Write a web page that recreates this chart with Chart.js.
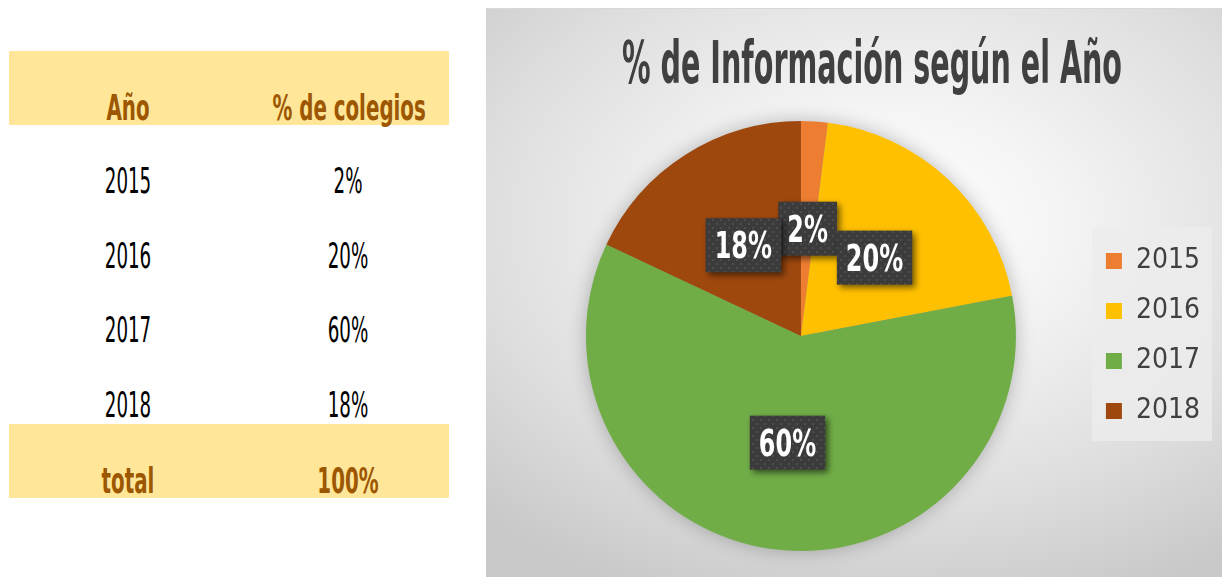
<!DOCTYPE html>
<html>
<head>
<meta charset="utf-8">
<script src="https://cdn.jsdelivr.net/npm/chart.js@4/dist/chart.umd.min.js"></script>
<style>
  html, body { margin: 0; padding: 0; background: #fff; width: 1222px; height: 577px; overflow: hidden; position: relative; }
  body { font-family: "Liberation Sans Narrow", "DejaVu Sans Condensed", "Liberation Sans", sans-serif; }
  .band { position: absolute; left: 9px; width: 440px; height: 74px; background: #FFE699; }
  .cell { position: absolute; width: 240px; margin-left: -120px; text-align: center; line-height: 1; font-size: 35px; color: #000; transform: scaleX(0.58); white-space: nowrap; }
  .head { color: #9C5700; font-weight: bold; transform: scaleX(0.63); }
  #panel { position: absolute; left: 486px; top: 8px; width: 772px; height: 569px;
    background: radial-gradient(ellipse 75% 70% at 52% 38%, #ffffff 0%, #f4f4f4 30%, #dedede 70%, #c9c9c9 100%);
    border-top: 1px solid #d8d8d8; }
  #panel canvas { position: absolute; left: 0; top: 0; }
</style>
</head>
<body>
<div class="band" style="top:51px"></div>
<div class="band" style="top:424px"></div>
<div id="table"></div>
<div id="panel"><canvas id="pie" width="772" height="569"></canvas></div>
<script>
const years = ['2015', '2016', '2017', '2018'];
const shares = [2, 20, 60, 18];
const sliceColors = ['#ED7D31', '#FFC000', '#70AD47', '#9E480E'];
const tableHeaders = ['Año', '% de colegios'];
const chartTitle = '% de Información según el Año';

const FONT = '"Liberation Sans Narrow", "DejaVu Sans Condensed", "Liberation Sans", sans-serif';

// left table
const table = document.getElementById('table');
const colX = [128, 348];
const addCell = (text, x, centerY, cls) => {
  const d = document.createElement('div');
  d.className = 'cell' + (cls ? ' ' + cls : '');
  d.style.left = x + 'px';
  d.style.top = (centerY - 17) + 'px';
  d.textContent = text;
  table.appendChild(d);
};
addCell(tableHeaders[0], colX[0], 108, 'head');
addCell(tableHeaders[1], colX[1], 108, 'head');
const rowY = [181, 256, 330, 405];
years.forEach((y, i) => {
  addCell(y, colX[0], rowY[i]);
  addCell(shares[i] + '%', colX[1], rowY[i]);
});
addCell('total', colX[0], 481, 'head');
addCell(shares.reduce((a, b) => a + b, 0) + '%', colX[1], 481, 'head');

// dotted fill for the labels
const makePattern = (ctx) => {
  const c = document.createElement('canvas');
  c.width = 8; c.height = 8;
  const p = c.getContext('2d');
  p.fillStyle = '#3b3b3b';
  p.fillRect(0, 0, 8, 8);
  p.fillStyle = '#4d4d4d';
  p.fillRect(2, 2, 2, 2);
  p.fillRect(6, 6, 2, 2);
  return ctx.createPattern(c, 'repeat');
};

const titlePlugin = {
  id: 'bigTitle',
  afterDraw(chart) {
    const ctx = chart.ctx;
    ctx.save();
    ctx.font = 'bold 58px ' + FONT;
    const w = ctx.measureText(chartTitle).width;
    const sx = 500 / w;
    ctx.translate(386, 74);
    ctx.scale(sx, 1);
    ctx.fillStyle = '#404040';
    ctx.textAlign = 'center';
    ctx.textBaseline = 'alphabetic';
    ctx.fillText(chartTitle, 0, 0);
    ctx.restore();
  }
};

const legendBox = {
  id: 'legendBox',
  beforeDraw(chart) {
    const boxes = chart.legend && chart.legend.legendHitBoxes;
    if (!boxes || !boxes.length) return;
    const l = Math.min(...boxes.map(b => b.left)) - 14;
    const r = Math.max(...boxes.map(b => b.left + b.width)) + 12;
    const t = Math.min(...boxes.map(b => b.top)) - 20;
    const btm = Math.max(...boxes.map(b => b.top + b.height)) + 16;
    const ctx = chart.ctx;
    ctx.save();
    ctx.fillStyle = 'rgba(236,236,236,0.8)';
    ctx.fillRect(l, t, r - l, btm - t);
    ctx.restore();
  }
};

const pieShadow = {
  id: 'pieShadow',
  beforeDatasetsDraw(chart) {
    const arc = chart.getDatasetMeta(0).data[0];
    if (!arc) return;
    const ctx = chart.ctx;
    ctx.save();
    ctx.shadowColor = 'rgba(0,0,0,0.3)';
    ctx.shadowBlur = 20;
    ctx.beginPath();
    ctx.arc(arc.x, arc.y, arc.outerRadius - 2, 0, Math.PI * 2);
    ctx.fillStyle = '#999';
    ctx.fill();
    ctx.restore();
  }
};

const sliceLabels = {
  id: 'sliceLabels',
  afterDatasetsDraw(chart) {
    const ctx = chart.ctx;
    const pattern = makePattern(ctx);
    const meta = chart.getDatasetMeta(0);
    meta.data.forEach((arc, i) => {
      const pos = arc.tooltipPosition();
      const text = chart.data.datasets[0].data[i] + '%';
      ctx.save();
      ctx.font = 'bold 37px ' + FONT;
      const sx = 0.72;
      const tw = ctx.measureText(text).width * sx;
      const bw = tw + 18, bh = 54;
      ctx.shadowColor = 'rgba(0,0,0,0.55)';
      ctx.shadowBlur = 6;
      ctx.shadowOffsetX = 3;
      ctx.shadowOffsetY = 3;
      ctx.fillStyle = pattern;
      ctx.fillRect(pos.x - bw / 2, pos.y - bh / 2, bw, bh);
      ctx.shadowColor = 'transparent';
      ctx.translate(pos.x, pos.y + 13);
      ctx.scale(sx, 1);
      ctx.fillStyle = '#ffffff';
      ctx.textAlign = 'center';
      ctx.textBaseline = 'alphabetic';
      ctx.fillText(text, 0, 0);
      ctx.restore();
    });
  }
};

const ctx = document.getElementById('pie');
new Chart(ctx, {
  type: 'pie',
  data: {
    labels: years,
    datasets: [{
      data: shares,
      backgroundColor: sliceColors,
      borderWidth: 0
    }]
  },
  options: {
    responsive: false,
    animation: false,
    layout: { padding: { top: 112, bottom: 27, left: 32, right: 48 } },
    plugins: {
      title: { display: false },
      tooltip: { enabled: false },
      legend: {
        position: 'right',
        labels: {
          boxWidth: 16,
          boxHeight: 16,
          padding: 22,
          color: '#404040',
          font: { family: FONT, size: 28 }
        }
      }
    }
  },
  plugins: [legendBox, pieShadow, sliceLabels, titlePlugin]
});
</script>
</body>
</html>
